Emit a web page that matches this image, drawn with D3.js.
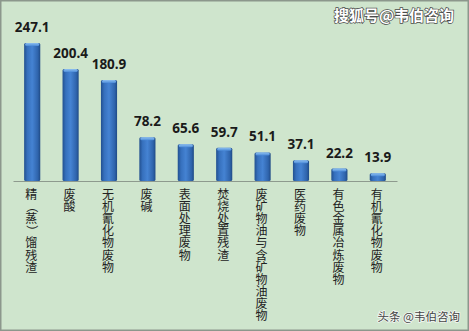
<!DOCTYPE html>
<html>
<head>
<meta charset="utf-8">
<script src="https://cdn.jsdelivr.net/npm/d3@7"></script>
<style>
  html, body { margin: 0; padding: 0; background: #cfe5cd; }
  svg { display: block; }
</style>
</head>
<body>
<svg id="chart" width="469" height="331"></svg>
<script>
// Hazardous waste categories and their amounts
const categories = ["精（蒸）馏残渣", "废酸", "无机氰化物废物", "废碱", "表面处理废物",
                    "焚烧处置残渣", "废矿物油与含矿物油废物", "医药废物", "有色金属冶炼废物", "有机氰化物废物"];
const values = [247.1, 200.4, 180.9, 78.2, 65.6, 59.7, 51.1, 37.1, 22.2, 13.9];

const W = 469, H = 331;
const svg = d3.select("#chart");

// Background panel with grey frame
svg.append("rect").attr("x", 0.75).attr("y", 0.75).attr("width", W - 1.5).attr("height", H - 1.5)
  .attr("fill", "#cfe5cd").attr("stroke", "#8c978c").attr("stroke-width", 1.5);

const defs = svg.append("defs");
const grad = defs.append("linearGradient").attr("id", "barGrad").attr("x1", "0").attr("x2", "1").attr("y1", "0").attr("y2", "0");
grad.append("stop").attr("offset", "0%").attr("stop-color", "#22508f");
grad.append("stop").attr("offset", "20%").attr("stop-color", "#3670bd");
grad.append("stop").attr("offset", "50%").attr("stop-color", "#4583d3");
grad.append("stop").attr("offset", "85%").attr("stop-color", "#2f64ac");
grad.append("stop").attr("offset", "100%").attr("stop-color", "#1f4a85");
const capGrad = defs.append("linearGradient").attr("id", "capGrad").attr("x1", "0").attr("x2", "0").attr("y1", "0").attr("y2", "1");
capGrad.append("stop").attr("offset", "0%").attr("stop-color", "#8fc0f0");
capGrad.append("stop").attr("offset", "100%").attr("stop-color", "#4a8ad8");

const x = d3.scaleBand().domain(categories).range([13, 397]).paddingInner(0.58).paddingOuter(0.29);
const y = d3.scaleLinear().domain([0, 250]).range([181, 41.4]);

// Baseline axis
const axis = svg.append("g").attr("transform", `translate(0,${y(0)})`)
  .call(d3.axisBottom(x).tickSize(0).tickFormat(""));
axis.select(".domain").attr("stroke", "#8e9a8e").attr("stroke-width", 1);

// Bars
const bars = svg.append("g").selectAll("g").data(values).join("g");
bars.append("rect")
  .attr("x", (d, i) => x(categories[i]))
  .attr("y", d => y(d))
  .attr("width", x.bandwidth())
  .attr("height", d => y(0) - y(d))
  .attr("rx", 1.5)
  .attr("fill", "url(#barGrad)");
bars.append("rect")
  .attr("x", (d, i) => x(categories[i]) + 1)
  .attr("y", d => y(d))
  .attr("width", x.bandwidth() - 2)
  .attr("height", 3)
  .attr("rx", 1.5)
  .attr("fill", "url(#capGrad)");

// Value labels
bars.append("text")
  .attr("x", (d, i) => x(categories[i]) + x.bandwidth() / 2)
  .attr("y", d => y(d) - 11)
  .attr("text-anchor", "middle")
  .attr("font-family", "'Noto Sans', 'DejaVu Sans', sans-serif")
  .attr("font-weight", "bold")
  .attr("font-size", 13.5)
  .attr("fill", "#1a1a1a")
  .text(d => d.toFixed(1));

// Vertical category labels, one character per line;
// brackets are turned a quarter so they open toward the enclosed character
const labels = svg.append("g")
  .attr("font-family", "'Noto Sans CJK SC', sans-serif")
  .attr("font-size", 12)
  .attr("fill", "#222")
  .attr("text-anchor", "middle");
categories.forEach(c => {
  const cx = x(c) + x.bandwidth() / 2 - 1;
  const col = labels.append("text").attr("class", "cat");
  Array.from(c).forEach((ch, k) => {
    const by = 199 + k * 12.1;
    const span = col.append("tspan").attr("x", cx).attr("y", by).text(ch);
    if (ch === "（" || ch === "）") {
      span.attr("fill", "none");
      labels.append("text")
        .attr("x", cx).attr("y", by)
        .attr("transform", `rotate(90 ${cx} ${by - 4.4})`)
        .attr("aria-hidden", "true")
        .text(ch);
    }
  });
});

// Watermarks
svg.append("text").attr("x", 454).attr("y", 21).attr("text-anchor", "end")
  .attr("font-family", "'Noto Sans CJK SC', sans-serif").attr("font-weight", "bold")
  .attr("font-size", 15).attr("fill", "#ffffff")
  .attr("stroke", "#4a4a4a").attr("stroke-width", 1.4).attr("paint-order", "stroke")
  .text("搜狐号@韦伯咨询");
svg.append("text").attr("x", 460).attr("y", 321).attr("text-anchor", "end")
  .attr("font-family", "'Noto Sans CJK SC', sans-serif")
  .attr("font-size", 11.5).attr("fill", "#444")
  .attr("stroke", "#f4f8f4").attr("stroke-width", 1.5).attr("paint-order", "stroke")
  .text("头条 @韦伯咨询");
</script>
</body>
</html>
